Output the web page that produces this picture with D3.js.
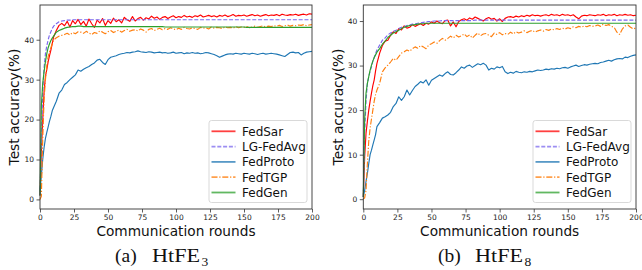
<!DOCTYPE html>
<html>
<head>
<meta charset="utf-8">
<script src="https://cdn.jsdelivr.net/npm/d3@7"></script>
<style>
body { margin: 0; background: #fff; }
svg { display: block; font-family: 'DejaVu Sans', sans-serif; }
</style>
</head>
<body>
<svg id="chart"></svg>
<script>
// communication rounds sampled (every round early on, then every 2nd)
let rounds = [0,1,2,3,4,5,6,7,8,9,10,
  12,14,16,18,20,22,24,26,28,30,
  32,34,36,38,40,42,44,46,48,50,
  52,54,56,58,60,62,64,66,68,70,
  72,74,76,78,80,82,84,86,88,90,
  92,94,96,98,100,102,104,106,108,110,
  112,114,116,118,120,122,124,126,128,130,
  132,134,136,138,140,142,144,146,148,150,
  152,154,156,158,160,162,164,166,168,170,
  172,174,176,178,180,182,184,186,188,190,
  192,194,196,198,200];

let methods = ['FedSar', 'LG-FedAvg', 'FedProto', 'FedTGP', 'FedGen'];
let xTicks = [0, 25, 50, 75, 100, 125, 150, 175, 200];
let yTicks = [0, 10, 20, 30, 40];

// (a) HtFE3
let fedSarA = [1.0,12,20,27,30.8,32.5,34.5,36,37.4,39,40.7,
  42.3,43.6,44.1,43.5,44.6,43.2,44.8,44.0,45.1,43.8,
  44.6,43.4,45.2,44.0,43.1,44.9,44.2,45.3,43.6,44.8,
  44.1,45.4,44.5,45.0,44.2,45.6,45.0,44.6,45.8,44.7,
  45.3,45.6,44.9,45.5,45.2,45.9,45.4,45.7,45.1,45.6,
  45.8,45.3,45.7,46.0,45.5,45.8,45.6,46.1,45.7,45.9,
  45.6,46.0,45.8,46.2,45.7,45.9,46.1,45.8,46.0,45.7,
  46.1,45.9,46.2,45.8,46.0,46.3,45.9,46.1,46.0,46.2,
  45.9,46.1,46.3,46.0,46.2,45.9,46.1,46.3,46.0,46.2,
  46.1,46.3,46.0,46.4,46.2,46.1,46.3,46.2,46.4,46.1,
  46.3,46.4,46.2,46.5,46.4];
let lgFedAvgA = [1.0,15,27,33,36.5,38.5,40,41.2,42.0,42.8,43.4,
  44.0,44.5,44.7,44.8,44.9,44.9,45.0,45.0,45.0,45.0,
  45.0,45.0,45.0,45.0,45.0,45.0,45.0,45.0,45.0,45.0,
  45.0,45.0,45.0,45.0,45.0,45.0,45.0,45.0,45.0,45.0,
  45.0,45.0,45.0,45.0,45.0,45.0,45.0,45.0,45.0,45.0,
  45.0,45.0,45.0,45.0,45.0,45.0,45.0,45.0,45.0,45.0,
  45.0,45.0,45.0,45.0,45.0,45.0,45.0,45.0,45.0,45.0,
  45.0,45.0,45.0,45.0,45.0,45.0,45.0,45.0,45.0,45.0,
  45.0,45.0,45.0,45.0,45.0,45.0,45.0,45.0,45.0,45.0,
  45.0,45.0,45.0,45.0,45.0,45.0,45.0,45.0,45.0,45.0,
  45.0,45.0,45.0,45.0,45.0];
let fedProtoA = [2.0,6,10,13,15.3,16.8,18.2,19.6,20.8,22.2,23.0,
  24.6,26.6,27.4,28.8,29.3,30.0,30.6,31.2,32.4,32.1,
  32.6,33.0,33.3,33.8,34.2,34.9,35.1,34.3,33.8,35.0,
  35.6,35.8,36.0,36.3,36.5,36.6,36.8,36.7,36.9,37.0,
  37.2,37.0,36.9,36.8,37.0,36.9,36.7,36.8,36.9,36.7,
  36.8,36.6,36.7,36.9,36.6,36.7,36.8,36.5,36.7,36.6,
  36.8,36.6,36.7,36.5,36.6,36.8,36.7,36.5,36.3,36.0,
  35.6,35.9,36.2,36.4,36.5,36.4,36.6,36.5,36.4,36.6,
  36.5,36.4,36.6,36.5,36.3,36.5,36.6,36.4,36.5,36.6,
  36.5,36.4,36.2,36.0,35.8,36.3,36.8,36.9,36.7,36.8,
  36.2,36.6,36.9,37.0,37.1];
let fedTgpA = [0.0,0.8,15,25,30,33.5,35.8,37.0,38.0,39.0,39.9,
  40.5,40.9,41.1,41.3,41.6,41.2,41.8,41.5,42.0,41.9,
  41.6,42.1,41.7,41.3,41.8,41.6,42.2,41.9,41.5,42.0,
  42.3,41.8,42.1,42.4,41.9,42.3,42.6,42.1,42.4,42.5,
  42.2,42.7,42.4,41.9,42.6,42.8,42.3,42.6,42.9,42.5,
  42.8,42.6,43.0,42.7,42.5,42.9,42.6,43.1,42.8,42.7,
  43.0,42.8,42.6,43.1,42.9,43.0,42.7,43.2,42.9,43.1,
  43.0,42.8,43.2,43.0,43.1,42.9,43.3,43.0,43.2,43.1,
  43.3,43.0,43.2,43.4,43.1,43.3,43.5,43.2,43.4,43.3,
  43.5,43.4,43.6,43.3,43.5,43.7,43.4,43.6,43.5,43.7,
  43.6,43.8,43.5,43.7,43.8];
let fedGenA = [1.0,23.5,29,32,34.5,36.5,38,39,39.8,40.4,40.9,
  41.9,42.3,42.6,42.9,43.1,43.2,43.3,43.3,43.4,43.4,
  43.3,43.3,43.3,43.3,43.3,43.3,43.3,43.3,43.3,43.3,
  43.3,43.3,43.3,43.3,43.3,43.3,43.3,43.3,43.3,43.3,
  43.3,43.3,43.3,43.3,43.3,43.3,43.3,43.3,43.3,43.3,
  43.2,43.2,43.2,43.2,43.2,43.2,43.2,43.2,43.2,43.2,
  43.2,43.2,43.2,43.2,43.2,43.2,43.2,43.2,43.2,43.2,
  43.2,43.2,43.2,43.2,43.2,43.2,43.2,43.2,43.2,43.2,
  43.1,43.1,43.1,43.1,43.1,43.1,43.1,43.1,43.1,43.1,
  43.1,43.1,43.1,43.1,43.1,43.1,43.1,43.1,43.1,43.1,
  43.1,43.1,43.1,43.1,43.1];

// (b) HtFE8
let fedSarB = [0.5,9.5,14.8,17.5,20,22,23.8,25.5,26.8,28.8,30.5,
  32.8,34.5,35.5,35.7,36.8,37.6,37.2,38.3,38.0,38.9,
  38.4,38.6,39.2,38.8,39.1,39.4,39.0,39.5,39.3,39.8,
  39.5,40.0,39.6,39.4,40.1,40.2,38.9,39.8,38.7,39.9,
  40.3,40.5,40.2,40.7,40.4,40.9,40.6,40.3,40.0,40.5,
  40.8,40.4,40.6,40.0,40.5,39.9,40.6,40.9,41.0,40.8,
  41.1,40.9,41.2,41.0,41.3,41.1,41.4,41.2,41.3,41.1,
  41.3,41.4,41.2,41.5,41.3,41.4,41.2,41.5,41.3,41.4,
  41.2,41.4,40.9,40.5,41.1,41.3,41.2,41.4,41.3,41.2,
  41.4,41.3,41.5,41.2,41.4,41.3,41.5,41.2,41.4,41.3,
  41.5,41.3,41.4,41.2,41.3];
let lgFedAvgB = [0.5,15,22,26,27.5,28.8,29.7,31,31.8,32.7,33.5,
  34.6,35.7,36.2,36.9,37.3,37.7,37.9,38.3,38.6,38.7,
  39.0,39.1,39.3,39.4,39.5,39.6,39.7,39.8,39.9,39.9,
  40.0,40.0,40.0,40.1,40.1,40.1,40.1,40.1,40.1,40.1,
  40.1,40.1,40.1,40.1,40.1,40.2,40.2,40.2,40.2,40.2,
  40.2,40.2,40.2,40.2,40.2,40.2,40.2,40.2,40.2,40.2,
  40.2,40.2,40.2,40.2,40.2,40.2,40.2,40.2,40.2,40.2,
  40.2,40.2,40.2,40.2,40.2,40.2,40.2,40.2,40.2,40.2,
  40.2,40.2,40.2,40.2,40.2,40.2,40.2,40.2,40.2,40.2,
  40.2,40.2,40.2,40.2,40.2,40.2,40.2,40.2,40.2,40.2,
  40.2,40.2,40.2,40.2,40.2];
let fedProtoB = [0.5,2.0,4.0,5.8,8,10,11,12.2,13.3,14.5,16.3,
  17.2,18.2,18.5,18.9,19.5,20.8,21.5,23.0,22.2,23.0,
  24.5,23.4,24.4,25.3,25.8,26.4,26.1,26.8,25.6,26.7,
  27.1,27.5,27.9,27.6,28.2,28.6,28.0,27.9,28.4,29.0,
  29.7,29.4,29.9,30.1,29.6,30.0,30.4,30.2,30.5,30.1,
  29.0,29.4,29.2,29.7,29.5,29.8,28.6,28.2,28.5,28.3,
  28.7,28.5,28.4,28.6,28.5,28.7,28.6,28.8,29.0,28.9,
  29.0,29.2,29.1,29.3,29.2,29.4,29.3,29.5,29.6,29.4,
  29.7,29.9,30.1,29.8,30.0,30.2,30.1,30.3,30.4,30.5,
  30.4,30.7,30.8,31.0,31.2,31.0,31.3,31.5,31.6,31.5,
  31.9,31.8,32.1,32.3,32.4];
let fedTgpB = [0.0,0.3,2,8,13,16,18,20,22,23.5,24.5,
  26.0,28.6,29.5,30.1,30.8,31.6,31.2,32.0,32.8,33.1,
  33.5,33.2,33.8,34.2,33.9,34.5,34.2,33.8,34.6,34.9,
  35.3,35.0,35.6,36.1,35.7,36.1,36.6,36.2,36.8,36.4,
  36.7,37.1,36.5,36.9,36.2,36.8,37.3,36.7,37.1,37.2,
  36.8,36.5,37.3,37.0,37.4,36.9,37.2,37.0,37.5,37.1,
  37.6,37.3,37.5,37.8,37.4,37.7,37.9,37.5,37.8,38.0,
  37.7,38.1,37.9,38.2,38.0,38.3,38.1,38.4,38.2,38.5,
  38.3,38.7,38.5,38.8,38.6,38.9,38.7,39.0,38.8,38.9,
  39.1,38.8,39.3,39.0,39.2,38.8,38.6,37.5,37.0,38.2,
  38.9,39.1,38.6,38.2,38.5];
let fedGenB = [0.5,18,23.8,26,27.5,29,30.1,31,31.8,32.4,33.0,
  33.8,34.8,35.5,36.3,36.8,37.3,37.6,37.9,38.3,38.6,
  38.8,39.0,39.1,39.2,39.3,39.4,39.4,39.5,39.5,39.5,
  39.5,39.5,39.5,39.5,39.5,39.5,39.5,39.5,39.5,39.5,
  39.5,39.5,39.5,39.5,39.5,39.5,39.5,39.5,39.5,39.5,
  39.5,39.5,39.5,39.5,39.5,39.5,39.5,39.5,39.5,39.5,
  39.5,39.5,39.5,39.5,39.5,39.5,39.5,39.5,39.5,39.5,
  39.5,39.5,39.5,39.5,39.5,39.5,39.5,39.5,39.5,39.5,
  39.5,39.5,39.5,39.5,39.5,39.5,39.5,39.5,39.5,39.5,
  39.5,39.5,39.5,39.5,39.5,39.5,39.5,39.5,39.5,39.5,
  39.5,39.5,39.5,39.5,39.5];

let styles = {
  'FedSar':    { color: '#ff0000', dash: null },
  'LG-FedAvg': { color: '#7b68ee', dash: '4,1.8' },
  'FedProto':  { color: '#1f77b4', dash: null },
  'FedTGP':    { color: '#ff7f0e', dash: '6,1.8,1.2,1.8' },
  'FedGen':    { color: '#2ca02c', dash: null }
};

let width = 642;
let height = 270;

let svg = d3.select('#chart')
  .attr('width', width)
  .attr('height', height);

let drawPanel = (p) => {
  let xScale = d3.scaleLinear().domain([0, 200]).range([p.left, p.right]);
  let yScale = d3.scaleLinear().domain(p.yDomain).range([209, 5]);

  let g = svg.append('g');

  let line = d3.line()
    .x((d, i) => xScale(rounds[i]))
    .y((d) => yScale(d));

  methods.forEach((m, k) => {
    g.append('path')
      .datum(p.series[k])
      .attr('d', line)
      .attr('fill', 'none')
      .attr('stroke', styles[m].color)
      .attr('stroke-width', 1.15)
      .attr('stroke-dasharray', styles[m].dash)
      .attr('stroke-linejoin', 'round');
  });

  let xAxis = d3.axisBottom(xScale).tickValues(xTicks).tickSize(3.5).tickPadding(2);
  let yAxis = d3.axisLeft(yScale).tickValues(yTicks).tickSize(3.5).tickPadding(2.5);

  let gx = g.append('g')
    .attr('transform', 'translate(0,209)')
    .call(xAxis);
  let gy = g.append('g')
    .attr('transform', 'translate(' + p.left + ',0)')
    .call(yAxis);

  [gx, gy].forEach((a) => {
    a.select('.domain').remove();
    a.selectAll('line').attr('stroke', '#333').attr('stroke-width', 0.8);
    a.selectAll('text')
      .attr('fill', '#222')
      .style('font-family', "'DejaVu Sans', sans-serif")
      .style('font-size', '7.5px');
  });

  // frame (all four spines)
  g.append('rect')
    .attr('x', p.left)
    .attr('y', 5)
    .attr('width', p.right - p.left)
    .attr('height', 204)
    .attr('fill', 'none')
    .attr('stroke', '#333')
    .attr('stroke-width', 0.9);

  // axis labels
  g.append('text')
    .attr('x', (p.left + p.right) / 2)
    .attr('y', 236)
    .attr('text-anchor', 'middle')
    .style('font-size', '13.7px')
    .attr('fill', '#111')
    .text('Communication rounds');

  g.append('text')
    .attr('transform', 'translate(' + p.yLabelX + ',107) rotate(-90)')
    .attr('text-anchor', 'middle')
    .style('font-size', '13.7px')
    .attr('fill', '#111')
    .text('Test accuracy(%)');

  // legend
  let lx = p.right - 5 - 98;
  let ly = 120.5;
  let leg = g.append('g');
  leg.append('rect')
    .attr('x', lx)
    .attr('y', ly)
    .attr('width', 98)
    .attr('height', 82)
    .attr('rx', 2.5)
    .attr('fill', 'rgba(255,255,255,0.85)')
    .attr('stroke', '#d5d5d5')
    .attr('stroke-width', 0.9);

  methods.forEach((m, k) => {
    let cy = ly + 10.8 + k * 15.3;
    leg.append('line')
      .attr('x1', lx + 2.5)
      .attr('x2', lx + 26.5)
      .attr('y1', cy)
      .attr('y2', cy)
      .attr('stroke', styles[m].color)
      .attr('stroke-opacity', 0.75)
      .attr('stroke-width', 1.8)
      .attr('stroke-dasharray', styles[m].dash);
    leg.append('text')
      .attr('x', lx + 33)
      .attr('y', cy)
      .attr('dy', '0.36em')
      .style('font-size', '12px')
      .attr('fill', '#111')
      .text(m);
  });

  // caption
  let cap = g.append('g')
    .style('font-family', "'Liberation Serif', 'Times New Roman', serif")
    .attr('fill', '#111');
  cap.append('text')
    .attr('x', p.capX)
    .attr('y', 262)
    .style('font-size', '19.5px')
    .text(p.capTag);
  cap.append('text')
    .attr('x', p.capX + 37)
    .attr('y', 262)
    .attr('textLength', 48)
    .attr('lengthAdjust', 'spacingAndGlyphs')
    .style('font-size', '19.5px')
    .text('HtFE');
  cap.append('text')
    .attr('x', p.capX + 86.5)
    .attr('y', 266)
    .style('font-size', '13.5px')
    .text(p.capSub);
};

drawPanel({
  left: 40, right: 312,
  yDomain: [-2.4, 48.7],
  series: [fedSarA, lgFedAvgA, fedProtoA, fedTgpA, fedGenA],
  yLabelX: 18.5,
  capX: 115, capTag: '(a)', capSub: '3'
});

drawPanel({
  left: 363.3, right: 636,
  yDomain: [-2.2, 43.6],
  series: [fedSarB, lgFedAvgB, fedProtoB, fedTgpB, fedGenB],
  yLabelX: 343,
  capX: 438, capTag: '(b)', capSub: '8'
});
</script>
</body>
</html>
